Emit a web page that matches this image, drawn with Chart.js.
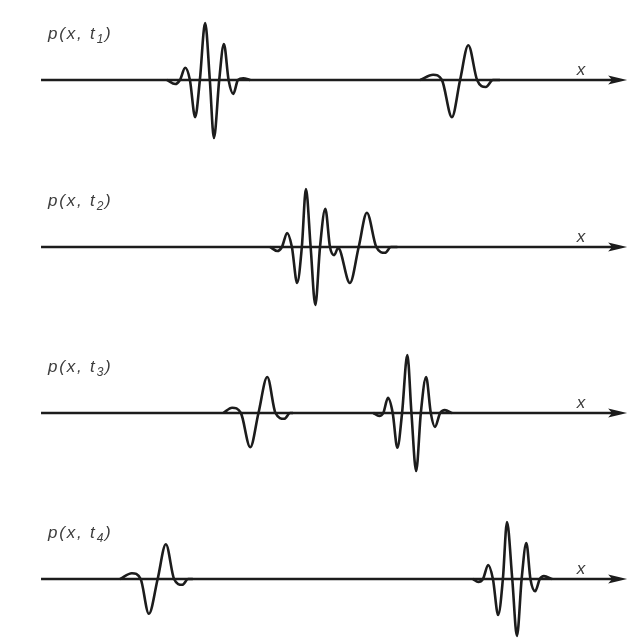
<!DOCTYPE html>
<html>
<head>
<meta charset="utf-8">
<script src="https://cdn.jsdelivr.net/npm/chart.js@4"></script>
<style>
  html, body { margin: 0; padding: 0; background: #ffffff; }
  #wrap { position: relative; width: 633px; height: 644px; overflow: hidden; }
  .panel { position: absolute; left: 0; width: 633px; }
</style>
</head>
<body>
<div id="wrap">
  <div class="panel" style="top:0px;height:167px"><canvas id="c1"></canvas></div>
  <div class="panel" style="top:167px;height:166px"><canvas id="c2"></canvas></div>
  <div class="panel" style="top:333px;height:166px"><canvas id="c3"></canvas></div>
  <div class="panel" style="top:499px;height:145px"><canvas id="c4"></canvas></div>
</div>
<script>
// Pressure snapshots p(x, t) of two wave packets travelling along x.
// Position runs 0..100 along the axis, pressure is normalised to the largest peak.

const timeSubscripts = ['1', '2', '3', '4'];

// t1: short packet on the left, broad packet on the right
const posT1A  = [21.5, 22.9, 23.7, 24.6, 25.4, 26.3, 27.1, 28.0, 28.8, 29.5, 30.4, 31.2, 32.0, 32.8, 33.6, 34.5, 35.7];
const presT1A = [0, -0.07, 0, 0.21, 0, -0.64, 0, 0.98, 0, -1.0, 0, 0.62, 0, -0.24, 0, 0.03, 0];
const posT1B  = [64.7, 66.9, 68.4, 70.1, 71.5, 72.9, 74.4, 75.9, 77.1, 78.3];
const presT1B = [0, 0.09, 0, -0.64, 0, 0.60, 0, -0.12, 0, 0];

// t2: the two packets overlap
const posT2  = [39.1, 40.3, 41.1, 42.0, 42.8, 43.7, 44.5, 45.2, 46.0, 46.8, 47.6, 48.5, 49.3, 50.0, 50.7, 52.7, 54.2, 55.6, 57.2, 58.7, 59.7, 60.8];
const presT2 = [0, -0.07, 0, 0.24, 0, -0.62, 0, 1.0, 0, -1.0, 0, 0.66, 0, -0.14, -0.02, -0.62, 0, 0.59, 0, -0.10, 0, 0];

// t3: packets have passed through each other
const posT3A  = [31.1, 32.6, 34.1, 35.7, 37.1, 38.6, 40.0, 41.5, 42.5, 43.0];
const presT3A = [0, 0.09, 0, -0.59, 0, 0.62, 0, -0.10, 0, 0];
const posT3B  = [56.7, 57.7, 58.4, 59.2, 60.0, 60.8, 61.6, 62.5, 63.2, 64.0, 64.8, 65.7, 66.5, 67.2, 68.1, 68.9, 70.1];
const presT3B = [0, -0.05, 0, 0.26, 0, -0.60, 0, 1.0, 0, -1.0, 0, 0.62, 0, -0.24, 0, 0.05, 0];

// t4: packets far apart again
const posT4A  = [13.5, 15.5, 17.0, 18.4, 19.9, 21.3, 22.7, 24.1, 25.1, 25.9];
const presT4A = [0, 0.10, 0, -0.60, 0, 0.60, 0, -0.10, 0, 0];
const posT4B  = [73.7, 74.6, 75.4, 76.3, 77.1, 78.0, 78.8, 79.5, 80.4, 81.2, 82.0, 82.8, 83.5, 84.3, 85.1, 85.8, 87.2];
const presT4B = [0, -0.05, 0, 0.24, 0, -0.62, 0, 0.98, 0, -0.98, 0, 0.62, 0, -0.21, 0, 0.05, 0];

const snapshots = [
  [[posT1A, presT1A], [posT1B, presT1B]],
  [[posT2, presT2]],
  [[posT3A, presT3A], [posT3B, presT3B]],
  [[posT4A, presT4A], [posT4B, presT4B]]
];

const INK = '#1c1c1c';
const LABEL_INK = '#3c3c3c';
const AXIS_FROM_TOP = 80;   // px from panel top to the x axis
const UNIT_PX = 58;         // px for a pressure of 1

const zip = (xs, ys) => xs.map((v, i) => ({ x: v, y: ys[i] }));

// Draws the x axis with its arrow, the p(x, t) caption and the x label.
const axisAndLabels = {
  id: 'axisAndLabels',
  beforeDatasetsDraw(chart, args, opts) {
    const { ctx, scales: { x, y } } = chart;
    const y0 = y.getPixelForValue(0);
    const xs = x.getPixelForValue(0);
    const xe = x.getPixelForValue(100);
    ctx.save();
    ctx.strokeStyle = INK;
    ctx.fillStyle = INK;
    ctx.lineWidth = 2.6;
    ctx.beginPath();
    ctx.moveTo(xs, y0);
    ctx.lineTo(xe - 12, y0);
    ctx.stroke();
    ctx.beginPath();
    ctx.moveTo(xe, y0);
    ctx.lineTo(xe - 19, y0 - 4.5);
    ctx.lineTo(xe - 15, y0);
    ctx.lineTo(xe - 19, y0 + 4.5);
    ctx.closePath();
    ctx.fill();
    ctx.restore();
  },
  afterDatasetsDraw(chart, args, opts) {
    const { ctx, scales: { x, y } } = chart;
    const y0 = y.getPixelForValue(0);
    ctx.save();
    ctx.fillStyle = LABEL_INK;
    ctx.textBaseline = 'alphabetic';
    ctx.textAlign = 'left';
    const main = 'italic 17px "Liberation Sans", Arial, sans-serif';
    const sub = 'italic 12px "Liberation Sans", Arial, sans-serif';
    const gap = 1.8;
    let cx = x.getPixelForValue(1.2);
    const base = y0 - 41;
    const put = (s, font, dy) => {
      ctx.font = font;
      for (const ch of s) {
        ctx.fillText(ch, cx, base + dy);
        cx += ctx.measureText(ch).width + gap;
      }
    };
    put('p(x, t', main, 0);
    put(opts.sub, sub, 4);
    put(')', main, 0);
    ctx.font = main;
    ctx.fillText('x', x.getPixelForValue(91.4), y0 - 5);
    ctx.restore();
  }
};

snapshots.forEach((packets, i) => {
  const el = document.getElementById('c' + (i + 1));
  const h = el.parentElement.clientHeight;
  new Chart(el, {
    type: 'line',
    data: {
      datasets: packets.map(([xs, ps]) => ({
        data: zip(xs, ps),
        borderColor: INK,
        borderWidth: 2.6,
        pointRadius: 0,
        fill: false,
        cubicInterpolationMode: 'monotone'
      }))
    },
    options: {
      responsive: true,
      maintainAspectRatio: false,
      animation: false,
      layout: { padding: 0 },
      plugins: {
        legend: { display: false },
        tooltip: { enabled: false },
        axisAndLabels: { sub: timeSubscripts[i] }
      },
      scales: {
        x: { type: 'linear', display: false, min: -7.0, max: 101.0 },
        y: { type: 'linear', display: false,
             max: AXIS_FROM_TOP / UNIT_PX,
             min: -(h - AXIS_FROM_TOP) / UNIT_PX }
      }
    },
    plugins: [axisAndLabels]
  });
});
</script>
</body>
</html>
